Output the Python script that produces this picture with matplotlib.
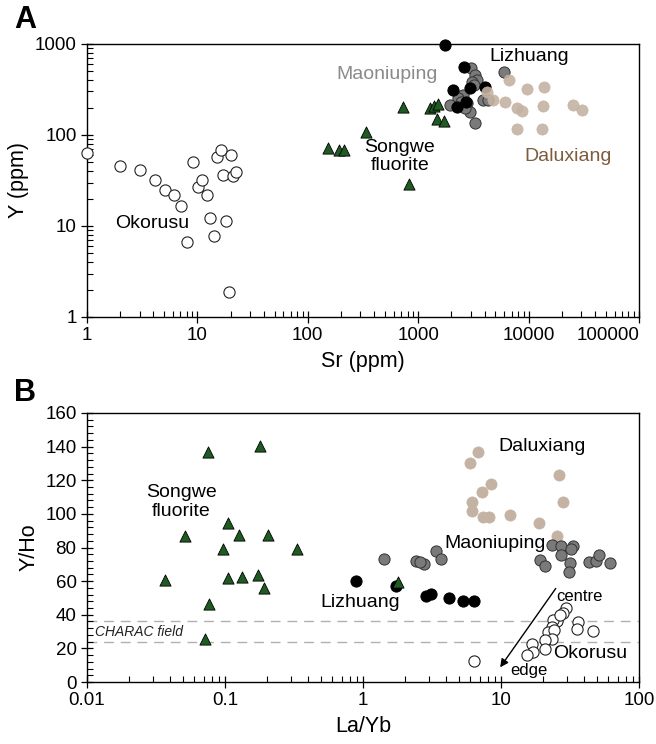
import numpy as np
import matplotlib.pyplot as plt
from matplotlib.ticker import LogLocator, MultipleLocator, NullFormatter

plt.rcParams['font.family'] = ['Liberation Sans', 'DejaVu Sans']

# ---- panel A : Y vs Sr ----
oko_sr = [1, 2.0, 3.0, 4.1, 5.1, 6.1, 7.1, 9.1, 10.1, 11.1, 12.1, 13.1, 18.2, 14.1, 8.1, 19.3,
          15.1, 16.2, 20.2, 17.1, 21.1, 22.2]
oko_y = [64, 45, 41, 32, 24.6, 21.6, 16.4, 50, 27, 32, 21.6, 12.3, 11.3, 7.8, 6.6, 1.87,
         57.7, 67.6, 60.7, 36.5, 35, 39.6]

sng_sr = [151, 190, 214, 337, 735, 1268, 1378, 1510, 1489, 1713, 828]
sng_y = [72, 68, 69, 109, 203, 200, 210, 217, 149, 142, 28.6]

mao_sr = [3006, 3268, 3388, 3050, 3200, 2564, 2308, 1942, 2750, 2944, 3268, 3837, 4315, 5984, 2450, 2650]
mao_y = [549, 456, 402, 385, 354, 275, 253, 214, 223, 180, 135, 243, 243, 492, 232, 196]

liz_sr = [1750, 2617, 2052, 2944, 4025, 2262, 2700]
liz_y = [975, 563, 313, 326, 340, 201, 230]

dal_sr = [6686, 9610, 13700, 4170, 4730, 6070, 7910, 8650, 13400, 25100, 30300, 7800, 13300]
dal_y = [402, 318, 334, 299, 243, 232, 196, 185, 208, 214, 188, 116, 117]

# ---- panel B : Y/Ho vs La/Yb ----
sngB_x = [0.0759, 0.178, 0.106, 0.051, 0.127, 0.205, 0.097, 0.333, 0.0365, 0.106, 0.132,
          0.173, 0.193, 0.0767, 0.0718, 1.78]
sngB_y = [137, 140.5, 94.3, 86.8, 87.4, 87.6, 79.3, 79.3, 60.4, 61.8, 62.2, 63.7, 55.9,
          46.6, 25.3, 59.5]

dalB_x = [6.81, 5.93, 8.41, 7.33, 6.21, 6.21, 7.41, 8.2, 11.6, 18.7, 26.3, 28.3, 25.4]
dalB_y = [136.9, 130, 117.7, 113.1, 106.8, 101.8, 98.2, 97.9, 99.2, 94.3, 123.4, 107, 87.1]

maoB_x = [1.41, 2.41, 2.75, 2.6, 3.37, 3.66, 23.5, 27.4, 33, 32, 27.4, 19.1, 21, 31.6, 31,
          43.2, 49.2, 51.4, 61.6]
maoB_y = [72.9, 72, 69.9, 71.5, 77.8, 72.9, 81.4, 81, 80.8, 79, 75.4, 72.4, 68.9, 70.5,
          65.5, 71.4, 71.8, 75.4, 70.8]

lizB_x = [0.895, 1.72, 2.85, 3.1, 4.22, 5.33, 6.4]
lizB_y = [59.9, 57, 51.4, 52.2, 50, 48, 48.2]

okoB_x = [6.34, 29.5, 28, 25.3, 24, 23.6, 22, 24.3, 23.6, 20.9, 16.7, 17.1, 15.4, 21,
          36.4, 35.8, 46.2, 26.8]
okoB_y = [12.3, 44.3, 41, 36.1, 36.7, 32.7, 29.8, 31.2, 25.8, 24.8, 22.9, 17.9, 15.9, 19.9,
          35.7, 31.8, 30.4, 39.7]

charac = [24, 36]

green = '#1f5a22'
tan = '#c4b3a3'
grey = '#7a7a7a'

fig = plt.figure(figsize=(6.56, 7.44), dpi=100)
ax1 = fig.add_axes([0.1326, 0.574, 0.8415, 0.367])
ax2 = fig.add_axes([0.1326, 0.0833, 0.8415, 0.3616])

ms = 65
lab = 14
# panel A
ax1.scatter(oko_sr, oko_y, s=ms, facecolor='white', edgecolor='#222222', linewidth=0.8, zorder=3, clip_on=False)
ax1.scatter(sng_sr, sng_y, s=65, marker='^', facecolor=green, edgecolor='black', linewidth=0.6, zorder=3)
ax1.scatter(mao_sr, mao_y, s=ms, facecolor=grey, edgecolor='#333333', linewidth=0.7, zorder=4)
ax1.scatter(liz_sr, liz_y, s=ms, facecolor='black', edgecolor='black', linewidth=0.7, zorder=5, clip_on=False)
ax1.scatter(dal_sr, dal_y, s=ms, facecolor=tan, edgecolor=tan, linewidth=0.5, alpha=0.9, zorder=6)

ax1.set_xscale('log')
ax1.set_yscale('log')
ax1.set_xlim(1, 100000)
ax1.set_ylim(1, 1000)
ax1.set_xticks([1, 10, 100, 1000, 10000, 100000])
ax1.set_xticklabels(['1', '10', '100', '1000', '10000', '100000'])
ax1.get_xticklabels()[-1].set_horizontalalignment('right')
ax1.set_yticks([1, 10, 100, 1000])
ax1.set_yticklabels(['1', '10', '100', '1000'])
ax1.xaxis.set_minor_locator(LogLocator(base=10, subs=np.arange(2, 10)))
ax1.yaxis.set_minor_locator(LogLocator(base=10, subs=np.arange(2, 10)))
ax1.xaxis.set_minor_formatter(NullFormatter())
ax1.yaxis.set_minor_formatter(NullFormatter())
ax1.set_xlabel('Sr (ppm)', fontsize=15.5, labelpad=5)
ax1.set_ylabel('Y (ppm)', fontsize=15.5, labelpad=4)

ax1.text(3.9, 10.5, 'Okorusu', fontsize=lab, ha='center', va='center')
ax1.text(519, 465, 'Maoniuping', fontsize=lab, ha='center', va='center', color='#8a8a8a')
ax1.text(10160, 724, 'Lizhuang', fontsize=lab, ha='center', va='center')
ax1.text(684, 58, 'Songwe\nfluorite', fontsize=lab, ha='center', va='center', linespacing=1.1)
ax1.text(22900, 57.8, 'Daluxiang', fontsize=lab, ha='center', va='center', color='#7d5c3d')

# panel B
for v in charac:
    ax2.axhline(v, color='#b0b0b0', linestyle=(0, (7, 5)), linewidth=1, zorder=1)
ax2.scatter(okoB_x, okoB_y, s=ms, facecolor='white', edgecolor='#222222', linewidth=0.8, zorder=3)
ax2.scatter(dalB_x, dalB_y, s=ms, facecolor=tan, edgecolor=tan, linewidth=0.5, zorder=3)
ax2.scatter(maoB_x, maoB_y, s=ms, facecolor=grey, edgecolor='#333333', linewidth=0.7, zorder=4)
ax2.scatter(lizB_x, lizB_y, s=ms, facecolor='black', edgecolor='black', linewidth=0.7, zorder=5)
ax2.scatter(sngB_x, sngB_y, s=65, marker='^', facecolor=green, edgecolor='black', linewidth=0.6, zorder=6)

ax2.set_xscale('log')
ax2.set_xlim(0.01, 100)
ax2.set_ylim(0, 160)
ax2.set_xticks([0.01, 0.1, 1, 10, 100])
ax2.set_xticklabels(['0.01', '0.1', '1', '10', '100'])
ax2.xaxis.set_minor_locator(LogLocator(base=10, subs=np.arange(2, 10)))
ax2.xaxis.set_minor_formatter(NullFormatter())
ax2.yaxis.set_major_locator(MultipleLocator(20))
ax2.yaxis.set_minor_locator(MultipleLocator(4))
ax2.set_xlabel('La/Yb', fontsize=15.5, labelpad=5)
ax2.set_ylabel('Y/Ho', fontsize=15.5, labelpad=4)

ax2.annotate('', xy=(9.6, 7.4), xytext=(25.6, 57),
             arrowprops=dict(arrowstyle='-|>', color='black', lw=1, mutation_scale=12))
ax2.text(37.3, 50.6, 'centre', fontsize=12, ha='center', va='center')
ax2.text(15.8, 7.0, 'edge', fontsize=12, ha='center', va='center')
ax2.text(44.2, 16.9, 'Okorusu', fontsize=lab, ha='center', va='center')
ax2.text(19.7, 140.3, 'Daluxiang', fontsize=lab, ha='center', va='center')
ax2.text(9.0, 82.4, 'Maoniuping', fontsize=lab, ha='center', va='center')
ax2.text(0.95, 47.4, 'Lizhuang', fontsize=lab, ha='center', va='center')
ax2.text(0.048, 107, 'Songwe\nfluorite', fontsize=lab, ha='center', va='center', linespacing=1.1)
ax2.text(0.0115, 29.6, 'CHARAC field', fontsize=10, style='italic', ha='left', va='center',
         color='#222222')

for ax in (ax1, ax2):
    ax.tick_params(which='major', direction='inout', length=8, width=0.9, labelsize=13.5,
                   top=False, right=False)
    ax.tick_params(which='minor', direction='in', length=4, width=0.8, top=False, right=False)
    for sp in ax.spines.values():
        sp.set_linewidth(1.0)

fig.text(0.022, 0.973, 'A', fontsize=22, fontweight='bold', va='center')
fig.text(0.022, 0.472, 'B', fontsize=22, fontweight='bold', va='center')

plt.savefig('out.png', dpi=100)
